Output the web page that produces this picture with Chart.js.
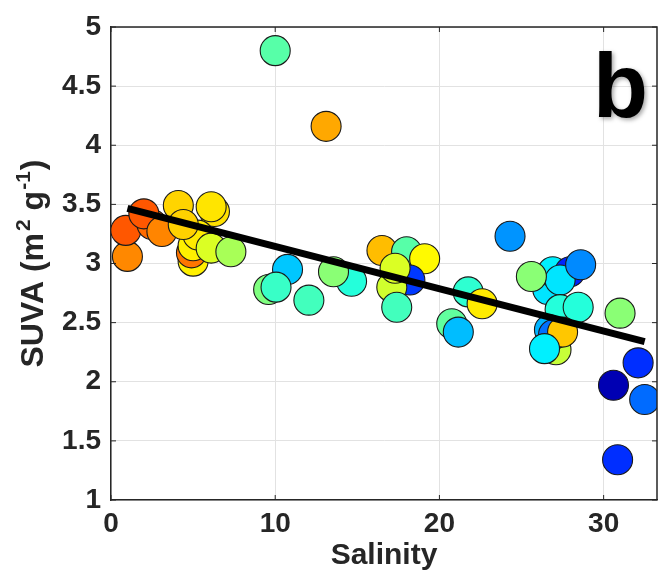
<!DOCTYPE html>
<html><head><meta charset="utf-8">
<script src="https://cdn.jsdelivr.net/npm/chart.js@4/dist/chart.umd.min.js"></script>
<style>html,body{margin:0;padding:0;background:#fff;} canvas{display:block;}</style>
</head><body>
<canvas id="c" width="658" height="575"></canvas>
<script>
// ---- data ----
const salinity = [1.0,0.9,2.5,2.0,3.1,4.1,6.3,6.1,5.0,4.9,5.0,5.3,4.4,6.1,7.3,
  10.0,13.1,
  9.6,10.75,10.05,12.05,14.65,13.55,16.5,18.0,19.1,18.2,17.1,17.3,17.4,
  24.3,21.75,22.6,20.75,21.15,26.6,26.9,27.95,27.35,28.6,25.6,27.35,28.45,27.1,26.7,26.95,27.5,26.4,31.0,32.1,30.6,32.5,30.85];
const suva = [3.06,3.28,3.33,3.42,3.27,3.49,3.44,3.48,3.02,3.09,3.15,3.24,3.33,3.13,3.10,
  4.80,4.16,
  2.78,2.95,2.80,2.69,2.85,2.93,3.11,3.10,3.04,2.86,2.80,2.96,2.63,
  3.23,2.76,2.66,2.49,2.42,2.78,2.93,2.93,2.86,2.99,2.89,2.61,2.63,2.27,2.44,2.40,2.42,2.28,2.58,2.16,1.97,1.85,1.34];
const colorValue = [0.742,0.79,0.77,0.79,0.745,0.667,0.655,0.65,0.64,0.76,0.64,0.645,0.67,0.59,0.54,
  0.46,0.71,
  0.50,0.32,0.43,0.44,0.41,0.51,0.69,0.46,0.63,0.18,0.58,0.59,0.44,
  0.27,0.42,0.645,0.47,0.31,0.35,0.36,0.16,0.35,0.26,0.51,0.41,0.41,0.57,0.30,0.235,0.68,0.36,0.51,0.17,0.05,0.23,0.17];
const fitSalinity = [1.0, 32.5];
const fitSuva = [3.467, 2.339];
const xTickValues = [0,10,20,30];
const yTickValues = [1,1.5,2,2.5,3,3.5,4,4.5,5];
const xTitle = 'Salinity';
const panelLabel = 'b';

// ---- helpers ----
const FONT = '"Liberation Sans", Arial, Helvetica, sans-serif';
const INK = '#262626';
function clamp(v){return Math.max(0,Math.min(1,v));}
function jet(v){
  const r = clamp(1.5-Math.abs(4*v-3)), g = clamp(1.5-Math.abs(4*v-2)), b = clamp(1.5-Math.abs(4*v-1));
  return 'rgb('+Math.round(r*255)+','+Math.round(g*255)+','+Math.round(b*255)+')';
}

const points = salinity.map((x,i)=>({x:x, y:suva[i]}));
const fitLine = fitSalinity.map((x,i)=>({x:x, y:fitSuva[i]}));

const decor = {
  id:'decor',
  afterDatasetsDraw(chart){
    const {ctx, chartArea:a, scales:{x, y}} = chart;
    ctx.save();
    ctx.strokeStyle = INK; ctx.lineWidth = 1.5;
    ctx.beginPath();
    ctx.moveTo(a.left, a.top); ctx.lineTo(a.right, a.top); ctx.lineTo(a.right, a.bottom);
    ctx.stroke();
    ctx.lineWidth = 1;
    const tl = 5;
    ctx.beginPath();
    xTickValues.forEach(v=>{const px = x.getPixelForValue(v);
      ctx.moveTo(px, a.bottom); ctx.lineTo(px, a.bottom-tl);
      ctx.moveTo(px, a.top); ctx.lineTo(px, a.top+tl);});
    yTickValues.forEach(v=>{const py = y.getPixelForValue(v);
      ctx.moveTo(a.left, py); ctx.lineTo(a.left+tl, py);
      ctx.moveTo(a.right, py); ctx.lineTo(a.right-tl, py);});
    ctx.stroke();
    ctx.restore();
  },
  afterDraw(chart){
    const {ctx, chartArea:a} = chart;
    // y axis title with superscripts
    ctx.save();
    ctx.fillStyle = INK;
    ctx.translate(33, (a.top+a.bottom)/2);
    ctx.rotate(-Math.PI/2);
    ctx.textBaseline = 'middle';
    const big = 'bold 32px '+FONT, small = 'bold 21px '+FONT;
    const segs = [
      {t:'SUVA (m', f:big, dy:0, gap:2},
      {t:'2', f:small, dy:-10, gap:0},
      {t:' g', f:big, dy:0, gap:1},
      {t:'-1', f:small, dy:-10, gap:1},
      {t:')', f:big, dy:0, gap:0}
    ];
    let total = 0;
    segs.forEach(s=>{ctx.font = s.f; s.w = ctx.measureText(s.t).width; total += s.w + s.gap;});
    let cx = -total/2;
    segs.forEach(s=>{ctx.font = s.f; ctx.fillText(s.t, cx, s.dy+1); cx += s.w + s.gap;});
    ctx.restore();
    // panel label
    ctx.save();
    ctx.font = 'bold 90px '+FONT;
    ctx.fillStyle = '#000';
    ctx.textBaseline = 'alphabetic';
    ctx.shadowColor = 'rgba(0,0,0,0.35)';
    ctx.shadowBlur = 4; ctx.shadowOffsetX = 2; ctx.shadowOffsetY = 2;
    ctx.fillText(panelLabel, 593, 117);
    ctx.restore();
  }
};

new Chart(document.getElementById('c'), {
  data:{
    datasets:[
      {type:'line', data:fitLine, borderColor:'#000', borderWidth:7, pointRadius:0, fill:false, order:0, borderCapStyle:'butt'},
      {type:'scatter', data:points, pointRadius:15, pointHoverRadius:15, pointBorderWidth:1.1,
       pointBorderColor:'#1a1a1a', pointBackgroundColor:colorValue.map(jet), order:1}
    ]
  },
  options:{
    responsive:false, animation:false, devicePixelRatio:1,
    layout:{autoPadding:false, padding:{top:27, right:1, left:0, bottom:0}},
    plugins:{legend:{display:false}, tooltip:{enabled:false}},
    scales:{
      x:{type:'linear', position:'bottom', min:0, max:33.25,
        afterBuildTicks:s=>{s.ticks = xTickValues.map(v=>({value:v}));},
        afterFit:s=>{s.height = 75; s.paddingRight = 0; s.paddingLeft = 0;},
        ticks:{font:{family:FONT, size:28, weight:'bold'}, color:INK, padding:7, maxRotation:0, autoSkip:false, callback:v=>String(v)},
        grid:{color:'#e2e2e2', drawTicks:false, lineWidth:1},
        border:{color:INK, width:1.5},
        title:{display:true, text:xTitle, font:{family:FONT, size:30, weight:'bold'}, color:INK, padding:{top:0, bottom:1}}
      },
      y:{type:'linear', position:'left', min:1, max:5,
        afterBuildTicks:s=>{s.ticks = yTickValues.map(v=>({value:v}));},
        afterFit:s=>{s.width = 111; s.paddingTop = 0; s.paddingBottom = 0;},
        ticks:{font:{family:FONT, size:28, weight:'bold'}, color:INK, padding:10, autoSkip:false, callback:v=>String(v)},
        grid:{color:'#e2e2e2', drawTicks:false, lineWidth:1},
        border:{color:INK, width:1.5}
      }
    }
  },
  plugins:[decor]
});
</script>
</body></html>
